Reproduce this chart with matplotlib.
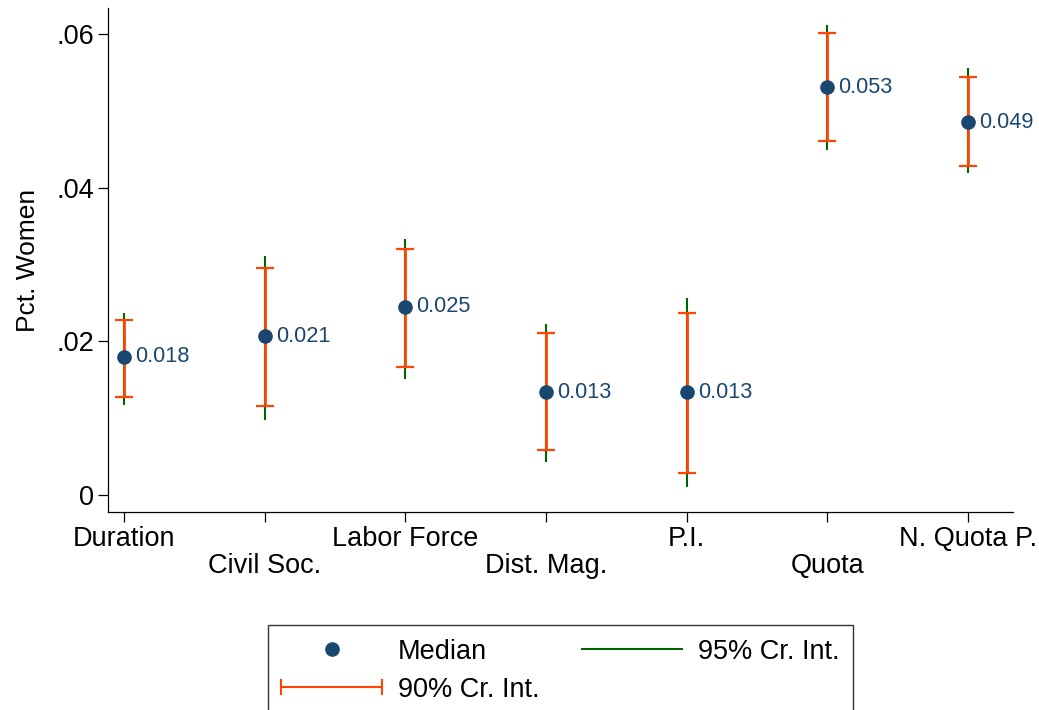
import matplotlib
matplotlib.use("Agg")
import matplotlib.pyplot as plt
from matplotlib.lines import Line2D
from matplotlib.legend_handler import HandlerLine2D

plt.rcParams['font.family'] = ['Liberation Sans', 'DejaVu Sans']

# data
categories = ["Duration", "Civil Soc.", "Labor Force", "Dist. Mag.", "P.I.", "Quota", "N. Quota P."]
median = [0.0180, 0.0207, 0.0245, 0.0134, 0.0134, 0.0531, 0.0485]
labels = ["0.018", "0.021", "0.025", "0.013", "0.013", "0.053", "0.049"]
lo95 = [0.0117, 0.0098, 0.0151, 0.0043, 0.0010, 0.0449, 0.0419]
hi95 = [0.0237, 0.0311, 0.0333, 0.0223, 0.0256, 0.0612, 0.0556]
lo90 = [0.0128, 0.0116, 0.0167, 0.0059, 0.0029, 0.0461, 0.0428]
hi90 = [0.0228, 0.0295, 0.0320, 0.0211, 0.0237, 0.0601, 0.0544]

navy = "#1a476f"
green = "#006400"
orange = "#ff4500"

fig = plt.figure(figsize=(10.39, 7.10), dpi=100)
ax = fig.add_axes([0.1039, 0.2789, 0.975 - 0.1039, 0.9887 - 0.2789])

x = list(range(1, len(categories) + 1))

# 95% spikes, 90% capped ranges, medians
ax.vlines(x, lo95, hi95, color=green, lw=1.5, zorder=2)
mid90 = [(a + b) / 2 for a, b in zip(lo90, hi90)]
half90 = [(b - a) / 2 for a, b in zip(lo90, hi90)]
ax.errorbar(x, mid90, yerr=half90, fmt="none", ecolor=orange, elinewidth=2,
            capsize=6.5, capthick=1.6, zorder=3)
ax.plot(x, median, "o", color=navy, markersize=9.5, zorder=4)
for xi, yi, t in zip(x, median, labels):
    ax.annotate(t, (xi, yi), xytext=(8, 0), textcoords="offset points",
                va="center", ha="left", color=navy, fontsize=15.7)

ax.set_xlim(0.886, 7.32)
ax.set_ylim(-0.0022, 0.0634)
ax.set_yticks([0, 0.02, 0.04, 0.06])
ax.set_yticklabels(["0", ".02", ".04", ".06"])
ax.set_xticks(x)
ax.set_xticklabels([c if i % 2 == 0 else "\n" + c for i, c in enumerate(categories)],
                   linespacing=1.05)
ax.tick_params(axis="both", length=7, width=0.9, labelsize=19.5, pad=3)
ax.set_ylabel("Pct. Women", fontsize=19, labelpad=12)
ax.spines["top"].set_visible(False)
ax.spines["right"].set_visible(False)
ax.spines["left"].set_linewidth(0.9)
ax.spines["bottom"].set_linewidth(0.9)


class CapHandler(HandlerLine2D):
    # horizontal line with end caps, like the 90% handle
    def create_artists(self, legend, orig_handle, xdescent, ydescent, width, height, fontsize, trans):
        y = height / 2 - ydescent
        x0, x1 = -xdescent, width - xdescent
        line = Line2D([x0, x1], [y, y], color=orange, lw=1.5, transform=trans)
        c1 = Line2D([x0, x0], [y - 5, y + 5], color=orange, lw=1.5, transform=trans)
        c2 = Line2D([x1, x1], [y - 5, y + 5], color=orange, lw=1.5, transform=trans)
        return [line, c1, c2]


h_med = Line2D([], [], ls="none", marker="o", color=navy, markersize=9.5)
h90 = Line2D([], [], color=orange, lw=1.5)
h95 = Line2D([], [], color=green, lw=1.5)

leg = fig.legend([h_med, h90, h95], ["Median", "90% Cr. Int.", "95% Cr. Int."],
                 ncol=2, loc="upper center", bbox_to_anchor=(0.5395, 0.1197),
                 fontsize=19.5, frameon=True, fancybox=False, edgecolor="black",
                 handlelength=3.7, handletextpad=0.6, columnspacing=1.55,
                 borderpad=0.5, labelspacing=0.45, borderaxespad=0,
                 handler_map={h90: CapHandler()})
leg.get_frame().set_linewidth(1.0)

fig.savefig("out.png", dpi=100)
